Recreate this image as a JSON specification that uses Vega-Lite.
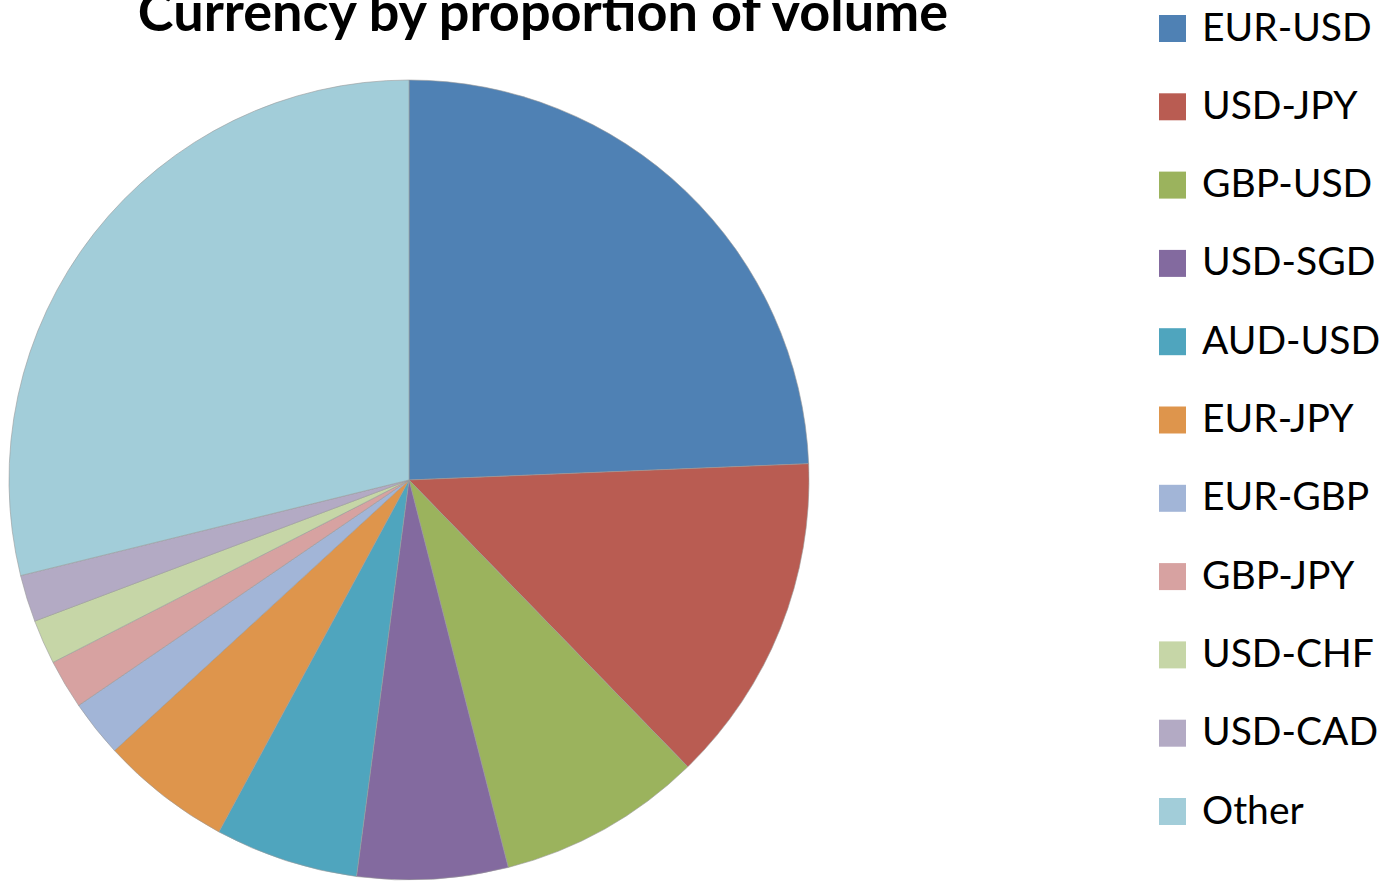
{
  "$schema": "https://vega.github.io/schema/vega-lite/v6.json",
  "autosize": {"type": "none"},
  "width": 818,
  "height": 800,
  "padding": {"top": 80, "left": 0, "right": 582, "bottom": 2},
  "background": "white",
  "title": {
    "text": "Currency by proportion of volume",
    "font": "Lato",
    "fontSize": 54,
    "fontWeight": "bold",
    "color": "black",
    "anchor": "middle",
    "frame": "group",
    "baseline": "alphabetic",
    "offset": 0,
    "dx": 134,
    "dy": 76
  },
  "data": {
    "values": [
      {"pair": "EUR-USD", "share": 24.4, "rank": 1},
      {"pair": "USD-JPY", "share": 13.4, "rank": 2},
      {"pair": "GBP-USD", "share": 8.3, "rank": 3},
      {"pair": "USD-SGD", "share": 6.1, "rank": 4},
      {"pair": "AUD-USD", "share": 5.8, "rank": 5},
      {"pair": "EUR-JPY", "share": 5.3, "rank": 6},
      {"pair": "EUR-GBP", "share": 2.3, "rank": 7},
      {"pair": "GBP-JPY", "share": 2.0, "rank": 8},
      {"pair": "USD-CHF", "share": 1.8, "rank": 9},
      {"pair": "USD-CAD", "share": 1.9, "rank": 10},
      {"pair": "Other", "share": 28.9, "rank": 11}
    ]
  },
  "mark": {"type": "arc", "outerRadius": 400, "stroke": "#9a9a9a", "strokeWidth": 0.6},
  "encoding": {
    "theta": {"field": "share", "type": "quantitative", "stack": true},
    "order": {"field": "rank", "type": "quantitative"},
    "color": {
      "field": "pair",
      "type": "nominal",
      "scale": {
        "domain": ["EUR-USD", "USD-JPY", "GBP-USD", "USD-SGD", "AUD-USD", "EUR-JPY", "EUR-GBP", "GBP-JPY", "USD-CHF", "USD-CAD", "Other"],
        "range": ["#4F81B4", "#B95C52", "#9BB35D", "#836A9F", "#4FA5BE", "#DE954C", "#A2B5D7", "#D7A2A1", "#C6D6A7", "#B3AAC4", "#A2CDD9"]
      },
      "legend": {
        "title": null,
        "orient": "none",
        "legendX": 1153,
        "legendY": -71,
        "symbolType": "square",
        "symbolSize": 729,
        "symbolStrokeWidth": 0,
        "labelFont": "Lato",
        "labelFontSize": 39,
        "labelColor": "black",
        "labelOffset": 10,
        "rowPadding": 38.3,
        "labelLimit": 400
      }
    }
  }
}
